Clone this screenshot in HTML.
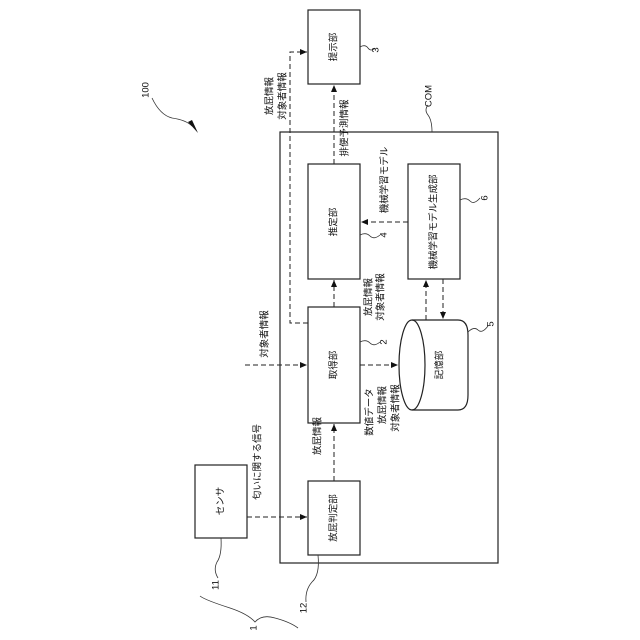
<!DOCTYPE html>
<html><head><meta charset="utf-8"><style>
html,body{margin:0;padding:0;background:#fff;}
svg{display:block;}
text{font-family:"Liberation Sans","Noto Sans CJK JP",sans-serif;font-size:9.5px;fill:#111;}
</style></head><body>
<svg width="640" height="640" viewBox="0 0 640 640" xmlns="http://www.w3.org/2000/svg">
<defs>
<marker id="a" markerWidth="8" markerHeight="8" refX="7" refY="4" orient="auto" markerUnits="userSpaceOnUse">
<path d="M0,1 L7,4 L0,7 Z" fill="#111"/></marker>
</defs>
<g fill="none" stroke="#222" stroke-width="1.2">
<rect x="280" y="132" width="218" height="431"/>
<rect x="308" y="10" width="52" height="74"/>
<rect x="308" y="164" width="52" height="115"/>
<rect x="408" y="164" width="52" height="115"/>
<rect x="308" y="307" width="52" height="116"/>
<rect x="308" y="481" width="52" height="74"/>
<rect x="195" y="465" width="52" height="73"/>
<path d="M412,320 L458,320 Q468,320 468,335 L468,395 Q468,410 458,410 L412,410"/>
<ellipse cx="412" cy="365" rx="13" ry="45"/>
</g>
<g fill="none" stroke="#222" stroke-width="1" stroke-dasharray="5,3">
<line x1="334" y1="481" x2="334" y2="424" marker-end="url(#a)"/>
<line x1="334" y1="307" x2="334" y2="280" marker-end="url(#a)"/>
<line x1="334" y1="164" x2="334" y2="85" marker-end="url(#a)"/>
<line x1="408" y1="222" x2="361" y2="222" marker-end="url(#a)"/>
<line x1="426" y1="320" x2="426" y2="280" marker-end="url(#a)"/>
<line x1="443" y1="279" x2="443" y2="319" marker-end="url(#a)"/>
<line x1="360" y1="365" x2="398" y2="365" marker-end="url(#a)"/>
<line x1="245" y1="365" x2="307" y2="365" marker-end="url(#a)"/>
<line x1="247" y1="517" x2="307" y2="517" marker-end="url(#a)"/>
<polyline points="308,323 290,323 290,52 307,52" marker-end="url(#a)"/>
</g>
<g fill="none" stroke="#333" stroke-width="0.8">
<path d="M360,47 Q365,44 368,48 Q371,52 375,48"/>
<path d="M360,235 Q366,232 370,236 Q374,240 380,235"/>
<path d="M460,200 Q466,197 470,201 Q474,205 480,198"/>
<path d="M360,342 Q366,339 370,343 Q374,347 380,342"/>
<path d="M468,332 Q474,326 478,330 Q482,334 488,326"/>
<path d="M432,132 Q432,120 428,115 Q424,110 428,105"/>
<path d="M221,538 Q222,555 217,562 Q213,570 218,578"/>
<path d="M318,555 Q320,575 312,582 Q305,590 306,602"/>
<path d="M200,596 Q205,600 230,608 Q248,614 255,622 Q262,614 275,618 Q290,622 298,628"/>
<path d="M152,98 Q160,115 172,118 Q186,120 192,126"/>
</g>
<path d="M188,122 L198,133 L192,120 Z" fill="#111"/>
<g text-anchor="middle" dominant-baseline="central">
<text transform="translate(334,47) rotate(-90)">提示部</text>
<text transform="translate(334,222) rotate(-90)">推定部</text>
<text transform="translate(434,222) rotate(-90)">機械学習モデル生成部</text>
<text transform="translate(334,365) rotate(-90)">取得部</text>
<text transform="translate(334,518) rotate(-90)">放屁判定部</text>
<text transform="translate(221,501) rotate(-90)">センサ</text>
<text transform="translate(440,365) rotate(-90)">記憶部</text>
<text transform="translate(345,128) rotate(-90)">排便予測情報</text>
<text transform="translate(283,96) rotate(-90)">対象者情報</text>
<text transform="translate(270,96) rotate(-90)">放屁情報</text>
<text transform="translate(385,180) rotate(-90)">機械学習モデル</text>
<text transform="translate(381,297) rotate(-90)">対象者情報</text>
<text transform="translate(369,297) rotate(-90)">放屁情報</text>
<text transform="translate(265,334) rotate(-90)">対象者情報</text>
<text transform="translate(396,408) rotate(-90)">対象者情報</text>
<text transform="translate(383,405) rotate(-90)">放屁情報</text>
<text transform="translate(370,412) rotate(-90)">数値データ</text>
<text transform="translate(318,436) rotate(-90)">放屁情報</text>
<text transform="translate(258,462) rotate(-90)">匂いに関する信号</text>
<text transform="translate(376,50) rotate(-90)" font-size="8">3</text>
<text transform="translate(384,235) rotate(-90)" font-size="8">4</text>
<text transform="translate(485,198) rotate(-90)" font-size="8">6</text>
<text transform="translate(384,342) rotate(-90)" font-size="8">2</text>
<text transform="translate(491,324) rotate(-90)" font-size="8">5</text>
<text transform="translate(429,96) rotate(-90)" font-size="8">COM</text>
<text transform="translate(146,90) rotate(-90)" font-size="8">100</text>
<text transform="translate(216,585) rotate(-90)" font-size="8">11</text>
<text transform="translate(304,608) rotate(-90)" font-size="8">12</text>
<text transform="translate(254,628) rotate(-90)" font-size="8">1</text>
</g>
</svg>
</body></html>
